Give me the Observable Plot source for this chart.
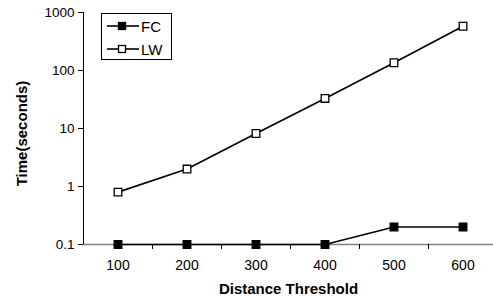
<!DOCTYPE html>
<html>
<head>
<meta charset="utf-8">
<script src="https://cdn.jsdelivr.net/npm/d3@7"></script>
<script src="https://cdn.jsdelivr.net/npm/@observablehq/plot@0.6"></script>
<style>
  html, body { margin: 0; padding: 0; background: #fff; }
  #wrap { position: relative; width: 493px; height: 301px; font-family: "Liberation Sans", Arial, sans-serif; }
  #legend { position: absolute; left: 101px; top: 13px; width: 69px; height: 45px; border: 1px solid #000; background: #fff; }
  .item { position: absolute; left: 4px; height: 16px; display: flex; align-items: center; font-size: 15px; color: #000; }
  .item svg { margin-right: 2px; }
</style>
</head>
<body>
<div id="wrap"></div>
<script>
const thresholds = [100, 200, 300, 400, 500, 600];
const fcTimes = [0.1, 0.1, 0.1, 0.1, 0.2, 0.2];
const lwTimes = [0.8, 2.0, 8.2, 33, 136, 580];
const seriesNames = ["FC", "LW"];
const seriesFill = ["black", "white"];
const yTicks = [0.1, 1, 10, 100, 1000];
const yTickLabels = ["0.1", "1", "10", "100", "1000"];
const xMinorTicks = [150, 250, 350, 450, 550];

const rows = [];
thresholds.forEach((t, i) => {
  rows.push({series: "FC", x: t, y: fcTimes[i]});
  rows.push({series: "LW", x: t, y: lwTimes[i]});
});

const chart = Plot.plot({
  width: 493,
  height: 301,
  marginLeft: 83,
  marginRight: 0,
  marginTop: 12,
  marginBottom: 57,
  style: {fontFamily: "Liberation Sans, Arial, sans-serif", fontSize: "13px", color: "#000", background: "#fff"},
  x: {type: "linear", domain: [50, 650], range: [83, 497]},
  y: {type: "log", domain: [0.1, 1000], range: [244, 12]},
  color: {domain: seriesNames, range: seriesFill},
  marks: [
    Plot.ruleY([0.1], {stroke: "#808080", strokeWidth: 1.5}),
    Plot.ruleX([50], {y1: 0.1, y2: 1000, stroke: "#000", strokeWidth: 1}),
    Plot.axisY({ticks: yTicks, tickFormat: (d) => yTickLabels[yTicks.indexOf(d)], tickSize: 5, tickPadding: 4, label: null, fontSize: 13.5, stroke: "#000", fill: "#000"}),
    Plot.axisX({ticks: xMinorTicks, tickSize: 5, tickFormat: () => "", label: null, stroke: "#000"}),
    Plot.axisX({ticks: thresholds, tickSize: 0, tickPadding: 16, tickFormat: d => String(d), label: null, fontSize: 14, fill: "#000"}),
    Plot.line(rows, {x: "x", y: "y", z: "series", stroke: "#000", strokeWidth: 1.6}),
    Plot.dot(rows, {x: "x", y: "y", symbol: "square", r: 4.3, fill: "series", stroke: "#000", strokeWidth: 1.3}),
    Plot.text(["Time(seconds)"], {frameAnchor: "left", textAnchor: "middle", dx: -61, dy: 5, rotate: -90, fontWeight: "bold", fontSize: 15, fill: "#000"}),
    Plot.text(["Distance Threshold"], {frameAnchor: "bottom", dy: 49, fontWeight: "bold", fontSize: 15, fill: "#000"})
  ]
});

const wrap = document.getElementById("wrap");
wrap.appendChild(chart);

const legend = document.createElement("div");
legend.id = "legend";
seriesNames.forEach((name, i) => {
  const item = document.createElement("div");
  item.className = "item";
  item.style.top = (4 + i * 23) + "px";
  item.innerHTML = `<svg width="33" height="12"><line x1="1" x2="33" y1="6" y2="6" stroke="#000" stroke-width="1.6"/><rect x="12.5" y="2.5" width="7" height="7" fill="${seriesFill[i]}" stroke="#000" stroke-width="1.3"/></svg><span>${name}</span>`;
  legend.appendChild(item);
});
wrap.appendChild(legend);
</script>
</body>
</html>
